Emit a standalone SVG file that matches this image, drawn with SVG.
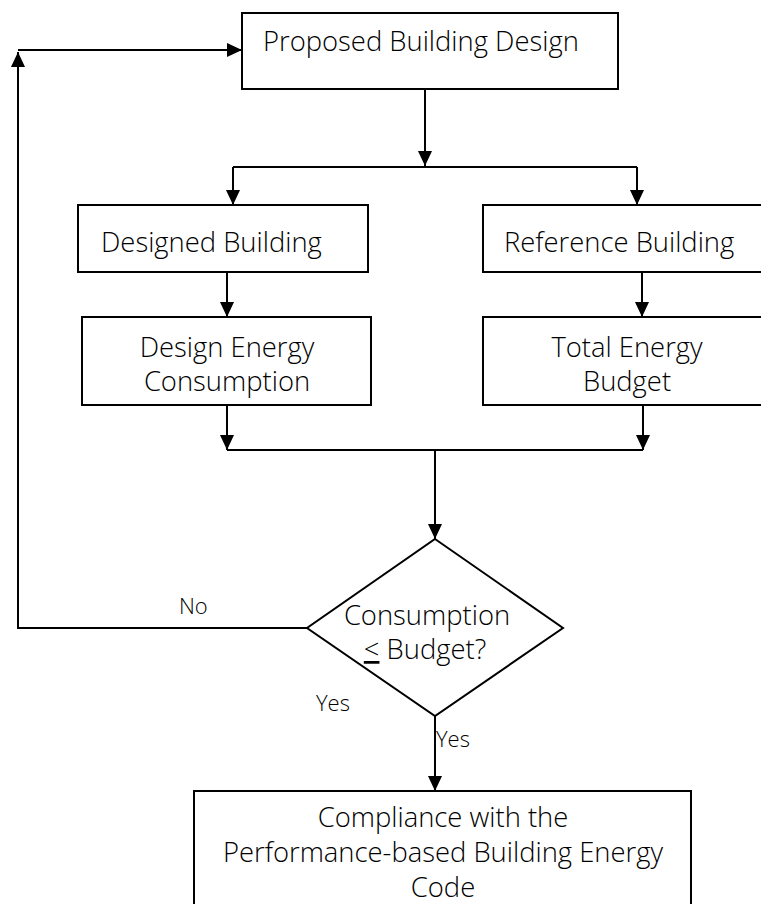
<svg xmlns="http://www.w3.org/2000/svg" width="761" height="904" viewBox="0 0 761 904">
  <style>
    .box { fill: #fff; stroke: #000; stroke-width: 2; }
    .line { fill: none; stroke: #000; stroke-width: 2; }
    .t { font-family: "Open Sans", "Noto Sans", sans-serif; font-weight: 300; font-size: 27.4px; fill: #000; }
    .s { font-family: "Open Sans", "Noto Sans", sans-serif; font-weight: 300; font-size: 22px; fill: #000; }
    .m { text-anchor: middle; }
  </style>
  <defs>
    <marker id="ah" markerWidth="15" markerHeight="14" refX="15" refY="7" orient="auto" markerUnits="userSpaceOnUse">
      <path d="M0,0 L15,7 L0,14 z" fill="#000"/>
    </marker>
  </defs>
  <rect width="761" height="904" fill="#fff"/>

  <g id="connectors">
    <path class="line" d="M307,628 H18 V52" marker-end="url(#ah)"/>
    <path class="line" d="M18,50 H242" marker-end="url(#ah)"/>
    <path class="line" d="M425,89 V166" marker-end="url(#ah)"/>
    <path class="line" d="M233,167 H637"/>
    <path class="line" d="M233,167 V205" marker-end="url(#ah)"/>
    <path class="line" d="M637,167 V205" marker-end="url(#ah)"/>
    <path class="line" d="M227,272 V317" marker-end="url(#ah)"/>
    <path class="line" d="M642,272 V317" marker-end="url(#ah)"/>
    <path class="line" d="M227,405 V450" marker-end="url(#ah)"/>
    <path class="line" d="M643,405 V450" marker-end="url(#ah)"/>
    <path class="line" d="M227,450 H643"/>
    <path class="line" d="M435,450 V539" marker-end="url(#ah)"/>
    <path class="line" d="M435,716 V791" marker-end="url(#ah)"/>
    <text class="s" x="179" y="614">No</text>
    <text class="s" x="316" y="711">Yes</text>
    <text class="s" x="436" y="747">Yes</text>
  </g>

  <g id="proposed">
    <rect class="box" x="242" y="13" width="376" height="76"/>
    <text class="t" x="263" y="51">Proposed Building Design</text>
  </g>

  <g id="designed">
    <rect class="box" x="78" y="205" width="290" height="67"/>
    <text class="t" x="101" y="252">Designed Building</text>
  </g>

  <g id="reference">
    <rect class="box" x="483" y="205" width="290" height="67"/>
    <text class="t" x="504" y="252">Reference Building</text>
  </g>

  <g id="design-energy">
    <rect class="box" x="82" y="317" width="289" height="88"/>
    <text class="t m" x="227" y="357">Design Energy</text>
    <text class="t m" x="227" y="391">Consumption</text>
  </g>

  <g id="total-energy">
    <rect class="box" x="483" y="317" width="290" height="88"/>
    <text class="t m" x="627" y="357">Total Energy</text>
    <text class="t m" x="627" y="391">Budget</text>
  </g>

  <g id="decision">
    <polygon class="box" points="435,539 563,628 435,716 307,628"/>
    <text class="t m" x="427" y="625">Consumption</text>
    <text class="t m" x="425" y="659"><tspan text-decoration="underline">&lt;</tspan> Budget?</text>
  </g>

  <g id="compliance">
    <rect class="box" x="194" y="791" width="497" height="130"/>
    <text class="t m" x="443" y="827">Compliance with the</text>
    <text class="t m" x="443" y="862">Performance-based Building Energy</text>
    <text class="t m" x="443" y="897">Code</text>
  </g>
</svg>
